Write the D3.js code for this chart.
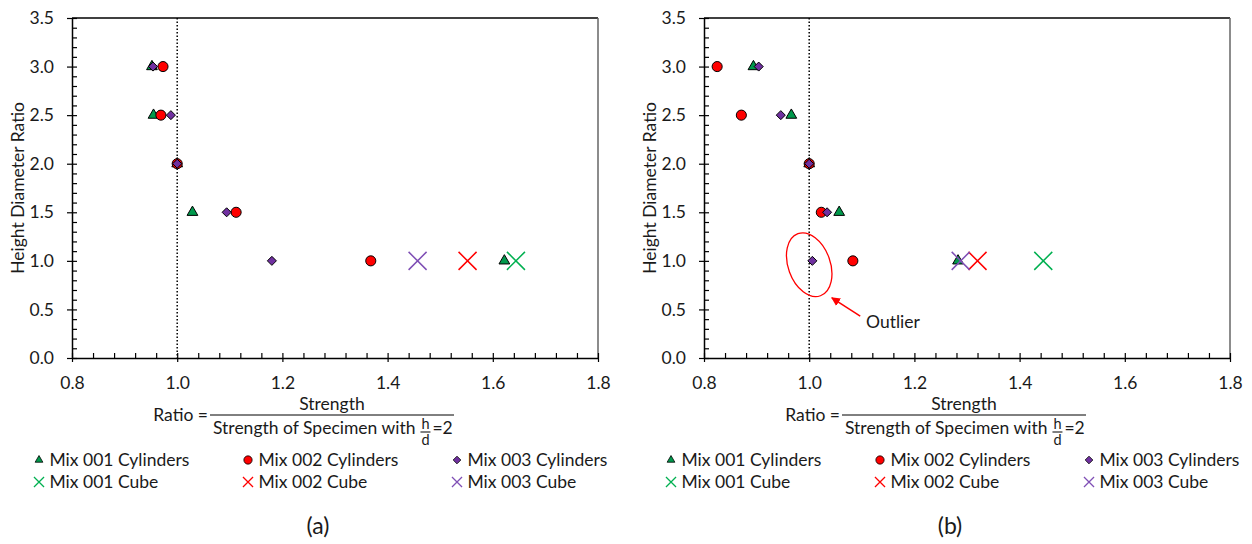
<!DOCTYPE html>
<html>
<head>
<meta charset="utf-8">
<script src="https://cdn.jsdelivr.net/npm/d3@7"></script>
<style>
  body { margin: 0; background: #fff; }
  text { font-family: Lato, "Open Sans", sans-serif; fill: #1a1a1a; }
</style>
</head>
<body>
<div id="wrapper"></div>
<script>
// ---- data ----
const heights = [3.0, 2.5, 2.0, 1.5, 1.0]
const cubeHeights = [1.0]

// panel (a)
const mix001CylA = [0.952, 0.955, 1.0, 1.029, 1.622]
const mix002CylA = [0.973, 0.969, 1.0, 1.112, 1.368]
const mix003CylA = [0.954, 0.988, 1.0, 1.094, 1.180]
const mix001CubeA = [1.644]
const mix002CubeA = [1.552]
const mix003CubeA = [1.457]

// panel (b)
const mix001CylB = [0.894, 0.966, 1.0, 1.057, 1.283]
const mix002CylB = [0.825, 0.871, 1.0, 1.023, 1.083]
const mix003CylB = [0.904, 0.946, 1.0, 1.034, 1.006]
const mix001CubeB = [1.445]
const mix002CubeB = [1.320]
const mix003CubeB = [1.288]

const xTicks = [0.8, 1.0, 1.2, 1.4, 1.6, 1.8]
const yTicks = [0, 0.5, 1.0, 1.5, 2.0, 2.5, 3.0, 3.5]
const xMinorTicks = d3.range(0.8, 1.801, 0.04)
const yMinorTicks = d3.range(0, 3.501, 0.1)

const seriesNames = ["Mix 001 Cylinders", "Mix 002 Cylinders", "Mix 003 Cylinders",
                     "Mix 001 Cube", "Mix 002 Cube", "Mix 003 Cube"]
const seriesKinds = ["triangle", "circle", "diamond", "cross", "cross", "cross"]
const seriesColors = ["#00994c", "#ff0000", "#7030a0", "#00b050", "#ff0000", "#7f4fb5"]

const panelA = [mix001CylA, mix002CylA, mix003CylA, mix001CubeA, mix002CubeA, mix003CubeA]
const panelB = [mix001CylB, mix002CylB, mix003CylB, mix001CubeB, mix002CubeB, mix003CubeB]

// ---- layout ----
let dimensions = {
  width: 1252,
  height: 544,
  plotWidth: 526,
  plotTop: 18,
  plotBottom: 358
}
const fontSize = 17.5

const svg = d3.select("#wrapper").append("svg")
  .attr("width", dimensions.width)
  .attr("height", dimensions.height)

const defs = svg.append("defs")
defs.append("marker")
  .attr("id", "arrow")
  .attr("viewBox", "0 0 10 10")
  .attr("refX", 9).attr("refY", 5)
  .attr("markerWidth", 6).attr("markerHeight", 6)
  .attr("orient", "auto")
  .append("path")
  .attr("d", "M0,0L10,5L0,10z")
  .attr("fill", "#ff0000")

function markerPath(kind, scale) {
  if (kind == "triangle") return d3.symbol(d3.symbolTriangle, 50 * scale * scale)()
  if (kind == "circle") return d3.symbol(d3.symbolCircle, 80 * scale * scale)()
  if (kind == "diamond") return d3.symbol(d3.symbolDiamond2, 52 * scale * scale)()
  const r = 9 * scale
  return `M${-r},${-r}L${r},${r}M${-r},${r}L${r},${-r}`
}
// legend keeps small markers
const legendScale = { triangle: 0.72, circle: 0.82, diamond: 0.85, cross: 0.56 }

function drawPanel(left, series, tag, outlier) {
  const xScale = d3.scaleLinear()
    .domain([0.8, 1.8])
    .range([left, left + dimensions.plotWidth])
  const yScale = d3.scaleLinear()
    .domain([0, 3.5])
    .range([dimensions.plotBottom, dimensions.plotTop])

  const g = svg.append("g")

  // frame: top and right
  g.append("line")
    .attr("x1", xScale(0.8)).attr("x2", xScale(1.8))
    .attr("y1", yScale(3.5)).attr("y2", yScale(3.5))
    .attr("stroke", "#000").attr("stroke-width", 1.5)
  g.append("line")
    .attr("x1", xScale(1.8)).attr("x2", xScale(1.8))
    .attr("y1", yScale(3.5)).attr("y2", yScale(0))
    .attr("stroke", "#666").attr("stroke-width", 1.5)

  // minor ticks, inside
  g.append("g")
    .attr("transform", `translate(0,${yScale(0)})`)
    .call(d3.axisBottom(xScale).tickValues(xMinorTicks).tickSize(-5).tickFormat(""))
    .call(a => a.select(".domain").remove())
  g.append("g")
    .attr("transform", `translate(${xScale(0.8)},0)`)
    .call(d3.axisLeft(yScale).tickValues(yMinorTicks).tickSize(-5).tickFormat(""))
    .call(a => a.select(".domain").remove())

  // major axes
  const xAxis = g.append("g")
    .attr("transform", `translate(0,${yScale(0)})`)
    .call(d3.axisBottom(xScale).tickValues(xTicks).tickSize(4).tickSizeOuter(0)
      .tickPadding(15).tickFormat(d3.format(".1f")))
  const yAxis = g.append("g")
    .attr("transform", `translate(${xScale(0.8)},0)`)
    .call(d3.axisLeft(yScale).tickValues(yTicks).tickSize(5).tickSizeOuter(0)
      .tickPadding(13).tickFormat(d3.format(".1f")))
  ;[xAxis, yAxis].forEach(a => {
    a.select(".domain").attr("stroke", "#000").attr("stroke-width", 1.5)
    a.selectAll("text").attr("font-size", fontSize).attr("font-family", "Lato")
  })
  g.selectAll(".tick line").attr("stroke", "#000").attr("stroke-width", 1.2)

  // reference line at ratio 1
  g.append("line")
    .attr("x1", xScale(1)).attr("x2", xScale(1))
    .attr("y1", yScale(3.5)).attr("y2", yScale(0))
    .attr("stroke", "#000").attr("stroke-width", 1.5)
    .attr("stroke-dasharray", "1.5,2")

  // y label
  g.append("text")
    .attr("transform", `translate(${left - 54},${(dimensions.plotTop + dimensions.plotBottom) / 2}) rotate(-90)`)
    .attr("text-anchor", "middle")
    .attr("dy", "0.35em")
    .attr("font-size", fontSize)
    .text("Height Diameter Ratio")

  // marks: cylinders first, cubes on top
  series.forEach((values, i) => {
    const ys = seriesKinds[i] == "cross" ? cubeHeights : heights
    const kind = seriesKinds[i]
    g.append("g").selectAll("path")
      .data(values)
      .join("path")
      .attr("transform", (d, j) => `translate(${xScale(d)},${yScale(ys[j])})`)
      .attr("d", markerPath(kind, 1))
      .attr("fill", kind == "cross" ? "none" : seriesColors[i])
      .attr("stroke", kind == "cross" ? seriesColors[i] : "#000")
      .attr("stroke-width", kind == "cross" ? 1.5 : 1)
  })

  // x label as fraction
  const fx = left + 138, fx2 = left + 382
  const fy = 415
  g.append("text").attr("x", fx - 2).attr("y", fy + 6)
    .attr("text-anchor", "end").attr("font-size", fontSize).text("Ratio =")
  g.append("line")
    .attr("x1", fx).attr("x2", fx2).attr("y1", fy).attr("y2", fy)
    .attr("stroke", "#000").attr("stroke-width", 1)
  g.append("text").attr("x", (fx + fx2) / 2).attr("y", fy - 5)
    .attr("text-anchor", "middle").attr("font-size", fontSize).text("Strength")
  const den = g.append("text").attr("x", fx + 3).attr("y", fy + 19)
    .attr("font-size", fontSize).text("Strength of Specimen with")
  const dw = den.node().getComputedTextLength()
  const hx = fx + 3 + dw + 10
  g.append("text").attr("x", hx).attr("y", fy + 14)
    .attr("text-anchor", "middle").attr("font-size", 14.5).text("h")
  g.append("line")
    .attr("x1", hx - 5).attr("x2", hx + 5).attr("y1", fy + 17).attr("y2", fy + 17)
    .attr("stroke", "#000").attr("stroke-width", 1)
  g.append("text").attr("x", hx).attr("y", fy + 30)
    .attr("text-anchor", "middle").attr("font-size", 14.5).text("d")
  g.append("text").attr("x", hx + 7).attr("y", fy + 19)
    .attr("font-size", fontSize).text("=2")

  // legend
  const legendCols = [left - 33, left + 176, left + 385]
  const legendRows = [460, 482]
  const legend = g.append("g").selectAll("g")
    .data(seriesNames)
    .join("g")
    .attr("transform", (d, i) => `translate(${legendCols[i % 3]},${legendRows[Math.floor(i / 3)]})`)
  legend.append("path")
    .attr("d", (d, i) => markerPath(seriesKinds[i], legendScale[seriesKinds[i]]))
    .attr("fill", (d, i) => seriesKinds[i] == "cross" ? "none" : seriesColors[i])
    .attr("stroke", (d, i) => seriesKinds[i] == "cross" ? seriesColors[i] : "#000")
    .attr("stroke-width", (d, i) => seriesKinds[i] == "cross" ? 1.3 : 0.8)
  legend.append("text")
    .attr("x", 10.5)
    .attr("dy", "0.35em")
    .attr("font-size", fontSize)
    .text(d => d)

  // panel tag
  g.append("text")
    .attr("x", left + 246).attr("y", 526)
    .attr("dy", "0.35em")
    .attr("text-anchor", "middle")
    .attr("font-size", 23)
    .text(tag)

  if (outlier) {
    const cx = xScale(1.0), cy = yScale(0.96)
    g.append("ellipse")
      .attr("transform", `translate(${cx},${cy}) rotate(-20)`)
      .attr("rx", 21).attr("ry", 33)
      .attr("fill", "none").attr("stroke", "#ff0000").attr("stroke-width", 1.3)
    g.append("line")
      .attr("x1", xScale(1.097)).attr("y1", yScale(0.43))
      .attr("x2", xScale(1.043)).attr("y2", yScale(0.62))
      .attr("stroke", "#ff0000").attr("stroke-width", 1.5)
      .attr("marker-end", "url(#arrow)")
    g.append("text")
      .attr("x", xScale(1.108)).attr("y", yScale(0.31))
      .attr("font-size", fontSize)
      .text("Outlier")
  }
}

drawPanel(72, panelA, "(a)", false)
drawPanel(704, panelB, "(b)", true)
</script>
</body>
</html>
